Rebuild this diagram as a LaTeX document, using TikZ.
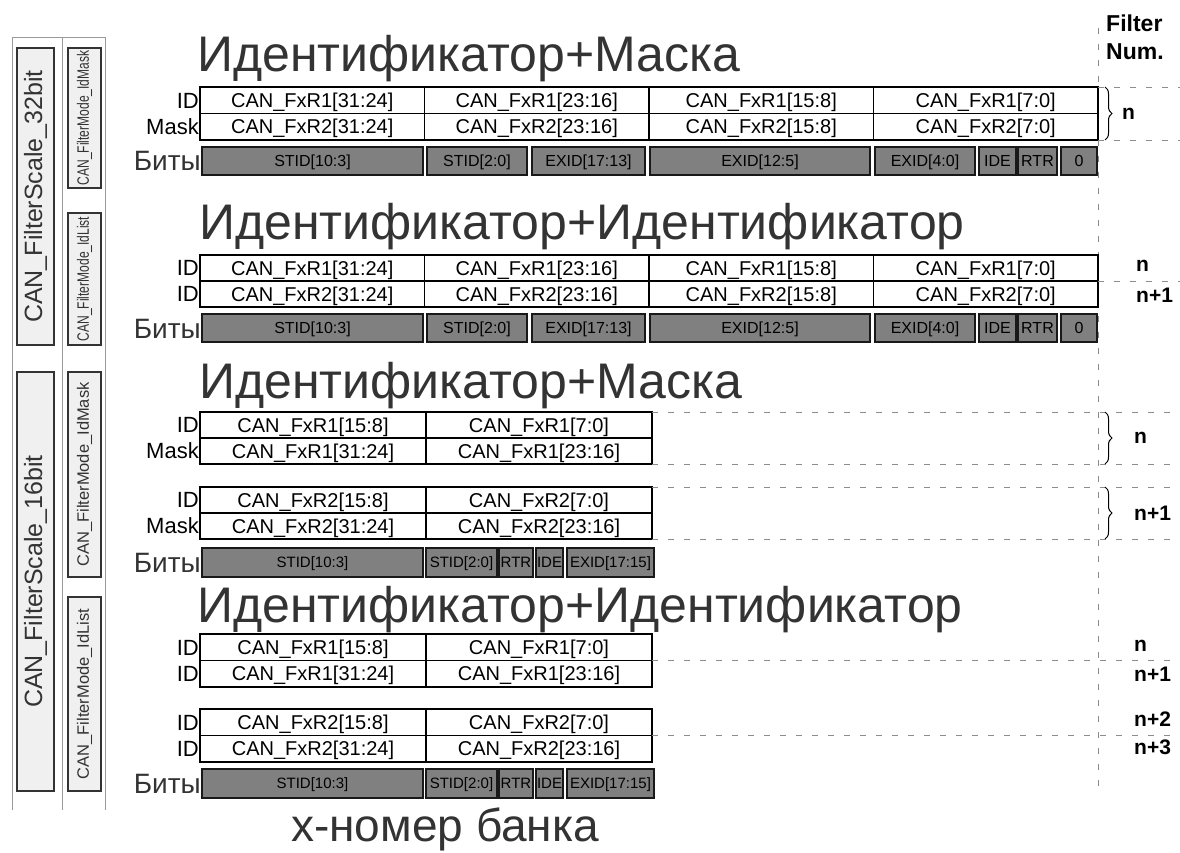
\documentclass[tikz,border=0pt]{standalone}
\usepackage{fontspec}
\setmainfont{Liberation Sans}
\usepackage{graphicx}
\usepackage{tikz}
\usetikzlibrary{positioning,decorations.pathreplacing}
\definecolor{titleGray}{HTML}{333333}
\definecolor{bitGray}{HTML}{808080}
\definecolor{frameGray}{HTML}{9A9A9A}
\definecolor{boxFill}{HTML}{F0F0F0}
\definecolor{guideGray}{HTML}{8C8C8C}
\tikzset{
     cellNode/.style =
        { rectangle
        , draw
        , line width=1.2pt
        , outer sep=0pt
        , inner sep=0pt
        , minimum width=224.5pt
        , minimum height=26.5pt
        , text height=14.4pt
        , text depth=0pt
        , font=\fontsize{20}{24}\selectfont
        }
   , halfCell/.style =
        { cellNode
        , minimum width=226pt
        }
   , bitNode/.style =
        { rectangle
        , draw=black!90
        , fill=bitGray
        , line width=1.4pt
        , outer sep=0pt
        , inner sep=0.5pt
        , minimum height=28pt
        , text height=11.5pt
        , text depth=0pt
        , font=\fontsize{16}{18}\selectfont
        }
   , bitSmall/.style =
        { bitNode
        , minimum height=29pt
        , text height=10.8pt
        , font=\fontsize{15}{17}\selectfont
        }
   , rowLabel/.style =
        { inner sep=0pt
        , text height=15.8pt
        , text depth=0pt
        , font=\fontsize{22}{24}\selectfont
        }
   , bitsLabel/.style =
        { inner sep=0pt
        , text=titleGray
        , text height=20pt
        , text depth=0pt
        , font=\fontsize{28}{30}\selectfont
        }
   , titleText/.style =
        { anchor=base west
        , inner sep=0pt
        , text=titleGray
        , font=\fontsize{50}{56}\selectfont
        }
   , headText/.style =
        { anchor=base west
        , inner sep=0pt
        , font=\fontsize{23}{26}\selectfont\bfseries
        }
   , numLabel/.style =
        { anchor=west
        , inner sep=0pt
        , font=\fontsize{21}{24}\selectfont\bfseries
        }
   , scaleBox/.style =
        { rectangle
        , draw=black!80
        , fill=boxFill
        , line width=1.2pt
        , rotate=90
        , inner sep=0pt
        , minimum height=37pt
        , text=titleGray
        , font=\fontsize{25}{28}\selectfont
        }
   , modeBox/.style =
        { scaleBox
        , minimum height=33pt
        , font=\fontsize{16.5}{18}\selectfont
        }
   , frameLine/.style = {frameGray, line width=1pt}
   , guideLine/.style =
        { guideGray
        , line width=0.9pt
        , dash pattern=on 6pt off 10pt
        }
   , braceLine/.style =
        { decorate
        , decoration={brace, amplitude=7pt}
        , line width=1pt
        }
}
\begin{document}
\begin{tikzpicture}
    [ x=1pt
    , y=-1pt
    , node distance=0pt
    ]
    \useasboundingbox (0,0) rectangle (1180,853);
    \coordinate (edgeR) at (1180,0);
    \coordinate (braceX) at (1105,0);
    \coordinate (numTop) at (1098,28);
    \coordinate (numBot) at (1098,790);

    % left column
    \draw[frameLine] (12,810) -- (12,38) -- (105,38) -- (105,810);
    \draw[frameLine] (62,38) -- (62,810);
    \node[scaleBox, minimum width=297pt] (scale32) at (35.5,196.5) {CAN\_FilterScale\_32bit};
    \node[scaleBox, minimum width=419pt] (scale16) at (35.5,581.5) {CAN\_FilterScale\_16bit};
    \node[modeBox, minimum width=140pt] (mask32) at (84.5,118) {\scalebox{0.73}[1]{CAN\_FilterMode\_IdMask}};
    \node[modeBox, minimum width=132pt] (list32) at (84.5,279) {\scalebox{0.73}[1]{CAN\_FilterMode\_IdList}};
    \node[modeBox, minimum width=205pt] (mask16) at (84.5,474.5) {CAN\_FilterMode\_IdMask};
    \node[modeBox, minimum width=194pt] (list16) at (84.5,694) {CAN\_FilterMode\_IdList};

    % filter numbers
    \draw[guideLine] (numTop) -- (numBot);
    \node[headText] (head1) at (1106,32) {Filter};
    \node[headText] (head2) at (1106,60) {Num.};

    % 32 bit, id + mask
    \node[titleText] (title1) at (197,72) {Идентификатор+Маска};
    \node[cellNode, anchor=north west] (i1a) at (200,87) {CAN\_FxR1[31:24]};
    \node[cellNode, right=of i1a] (i1b) {CAN\_FxR1[23:16]};
    \node[cellNode, right=of i1b] (i1c) {CAN\_FxR1[15:8]};
    \node[cellNode, right=of i1c] (i1d) {CAN\_FxR1[7:0]};
    \node[cellNode, below=of i1a] (k1a) {CAN\_FxR2[31:24]};
    \node[cellNode, right=of k1a] (k1b) {CAN\_FxR2[23:16]};
    \node[cellNode, right=of k1b] (k1c) {CAN\_FxR2[15:8]};
    \node[cellNode, right=of k1c] (k1d) {CAN\_FxR2[7:0]};
    \node[rowLabel, left=1pt of i1a] {ID};
    \node[rowLabel, left=1pt of k1a] {Mask};
    \node[bitNode, anchor=north west, minimum width=221pt] (b1a) at (202,147) {STID[10:3]};
    \node[bitNode, right=4pt of b1a, minimum width=100pt] (b1b) {STID[2:0]};
    \node[bitNode, right=5pt of b1b, minimum width=113pt] (b1c) {EXID[17:13]};
    \node[bitNode, right=5pt of b1c, minimum width=220pt] (b1d) {EXID[12:5]};
    \node[bitNode, right=5pt of b1d, minimum width=100pt] (b1e) {EXID[4:0]};
    \node[bitNode, right=4pt of b1e, minimum width=37pt] (b1f) {IDE};
    \node[bitNode, right=2pt of b1f, minimum width=39pt] (b1g) {RTR};
    \node[bitNode, right=4pt of b1g, minimum width=36pt] (b1h) {0};
    \node[bitsLabel, left=1pt of b1a] {Биты};
    \draw[guideLine] (i1d.north east) -- (i1d.north east -| edgeR);
    \draw[guideLine] (k1d.south east) -- (k1d.south east -| edgeR);
    \draw[braceLine] (i1d.north -| braceX) -- (k1d.south -| braceX);
    \node[numLabel] at (1122,113.5) {n};

    % 32 bit, id list
    \node[titleText] (title2) at (199,240) {Идентификатор+Идентификатор};
    \node[cellNode, anchor=north west, minimum height=26pt] (i2a) at (200,255) {CAN\_FxR1[31:24]};
    \node[cellNode, right=of i2a, minimum height=26pt] (i2b) {CAN\_FxR1[23:16]};
    \node[cellNode, right=of i2b, minimum height=26pt] (i2c) {CAN\_FxR1[15:8]};
    \node[cellNode, right=of i2c, minimum height=26pt] (i2d) {CAN\_FxR1[7:0]};
    \node[cellNode, below=of i2a, minimum height=26pt] (j2a) {CAN\_FxR2[31:24]};
    \node[cellNode, right=of j2a, minimum height=26pt] (j2b) {CAN\_FxR2[23:16]};
    \node[cellNode, right=of j2b, minimum height=26pt] (j2c) {CAN\_FxR2[15:8]};
    \node[cellNode, right=of j2c, minimum height=26pt] (j2d) {CAN\_FxR2[7:0]};
    \node[rowLabel, left=1pt of i2a] {ID};
    \node[rowLabel, left=1pt of j2a] {ID};
    \node[bitNode, anchor=north west, minimum width=221pt] (b2a) at (202,314) {STID[10:3]};
    \node[bitNode, right=4pt of b2a, minimum width=100pt] (b2b) {STID[2:0]};
    \node[bitNode, right=5pt of b2b, minimum width=113pt] (b2c) {EXID[17:13]};
    \node[bitNode, right=5pt of b2c, minimum width=220pt] (b2d) {EXID[12:5]};
    \node[bitNode, right=5pt of b2d, minimum width=100pt] (b2e) {EXID[4:0]};
    \node[bitNode, right=4pt of b2e, minimum width=37pt] (b2f) {IDE};
    \node[bitNode, right=2pt of b2f, minimum width=39pt] (b2g) {RTR};
    \node[bitNode, right=4pt of b2g, minimum width=36pt] (b2h) {0};
    \node[bitsLabel, left=1pt of b2a] {Биты};
    \draw[guideLine] (i2d.south east) -- (i2d.south east -| edgeR);
    \node[numLabel] at (1136,266) {n};
    \node[numLabel] at (1136,295) {n+1};

    % 16 bit, id + mask
    \node[titleText] (title3) at (199,398) {Идентификатор+Маска};
    \node[halfCell, anchor=north west, minimum height=26pt] (i3a) at (200,412) {CAN\_FxR1[15:8]};
    \node[halfCell, right=of i3a, minimum height=26pt] (i3b) {CAN\_FxR1[7:0]};
    \node[halfCell, below=of i3a, minimum height=26pt] (k3a) {CAN\_FxR1[31:24]};
    \node[halfCell, right=of k3a, minimum height=26pt] (k3b) {CAN\_FxR1[23:16]};
    \node[halfCell, anchor=north west, minimum height=26pt] (i3c) at (200,487) {CAN\_FxR2[15:8]};
    \node[halfCell, right=of i3c, minimum height=26pt] (i3d) {CAN\_FxR2[7:0]};
    \node[halfCell, below=of i3c, minimum height=26pt] (k3c) {CAN\_FxR2[31:24]};
    \node[halfCell, right=of k3c, minimum height=26pt] (k3d) {CAN\_FxR2[23:16]};
    \node[rowLabel, left=1pt of i3a] {ID};
    \node[rowLabel, left=1pt of k3a] {Mask};
    \node[rowLabel, left=1pt of i3c] {ID};
    \node[rowLabel, left=1pt of k3c] {Mask};
    \node[bitSmall, anchor=north west, minimum width=221pt] (b3a) at (202,548) {STID[10:3]};
    \node[bitSmall, right=3pt of b3a, minimum width=71pt] (b3b) {STID[2:0]};
    \node[bitSmall, right=2pt of b3b, minimum width=34pt] (b3c) {RTR};
    \node[bitSmall, right=3pt of b3c, minimum width=27pt] (b3d) {IDE};
    \node[bitSmall, right=4pt of b3d, minimum width=87pt] (b3e) {EXID[17:15]};
    \node[bitsLabel, left=1pt of b3a] {Биты};
    \draw[guideLine] (i3b.north east) -- (i3b.north east -| edgeR);
    \draw[guideLine] (k3b.south east) -- (k3b.south east -| edgeR);
    \draw[guideLine] (i3d.north east) -- (i3d.north east -| edgeR);
    \draw[guideLine] (k3d.south east) -- (k3d.south east -| edgeR);
    \draw[braceLine] (i3b.north -| braceX) -- (k3b.south -| braceX);
    \draw[braceLine] (i3d.north -| braceX) -- (k3d.south -| braceX);
    \node[numLabel] at (1134,438) {n};
    \node[numLabel] at (1134,513) {n+1};

    % 16 bit, id list
    \node[titleText] (title4) at (197,622) {Идентификатор+Идентификатор};
    \node[halfCell, anchor=north west] (i4a) at (200,634) {CAN\_FxR1[15:8]};
    \node[halfCell, right=of i4a] (i4b) {CAN\_FxR1[7:0]};
    \node[halfCell, below=of i4a] (j4a) {CAN\_FxR1[31:24]};
    \node[halfCell, right=of j4a] (j4b) {CAN\_FxR1[23:16]};
    \node[halfCell, anchor=north west] (i4c) at (200,709) {CAN\_FxR2[15:8]};
    \node[halfCell, right=of i4c] (i4d) {CAN\_FxR2[7:0]};
    \node[halfCell, below=of i4c] (j4c) {CAN\_FxR2[31:24]};
    \node[halfCell, right=of j4c] (j4d) {CAN\_FxR2[23:16]};
    \node[rowLabel, left=1pt of i4a] {ID};
    \node[rowLabel, left=1pt of j4a] {ID};
    \node[rowLabel, left=1pt of i4c] {ID};
    \node[rowLabel, left=1pt of j4c] {ID};
    \node[bitSmall, anchor=north west, minimum width=221pt] (b4a) at (202,769) {STID[10:3]};
    \node[bitSmall, right=3pt of b4a, minimum width=71pt] (b4b) {STID[2:0]};
    \node[bitSmall, right=2pt of b4b, minimum width=34pt] (b4c) {RTR};
    \node[bitSmall, right=3pt of b4c, minimum width=27pt] (b4d) {IDE};
    \node[bitSmall, right=4pt of b4d, minimum width=87pt] (b4e) {EXID[17:15]};
    \node[bitsLabel, left=1pt of b4a] {Биты};
    \draw[guideLine] (i4b.south east) -- (i4b.south east -| edgeR);
    \draw[guideLine] (i4d.south east) -- (i4d.south east -| edgeR);
    \node[numLabel] at (1134,646) {n};
    \node[numLabel] at (1134,674) {n+1};
    \node[numLabel] at (1134,719) {n+2};
    \node[numLabel] at (1134,747) {n+3};

    \node[titleText, font=\fontsize{46}{50}\selectfont] (bank) at (291,841) {x-номер банка};
\end{tikzpicture}
\end{document}
